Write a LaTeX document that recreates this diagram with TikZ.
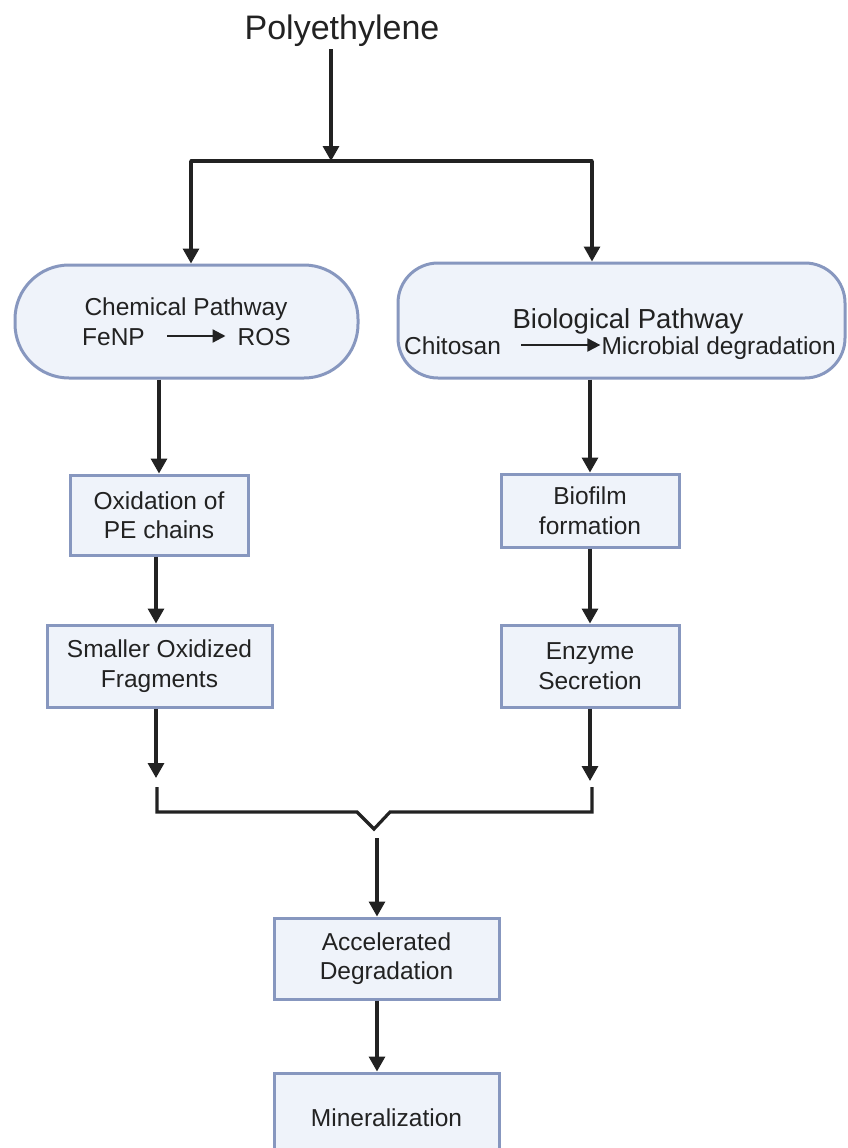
\documentclass[tikz,border=0pt]{standalone}
\usepackage{fontspec}
\setmainfont{Liberation Sans}
\usetikzlibrary{arrows.meta,calc}
\definecolor{boxfill}{HTML}{EFF3FA}
\definecolor{boxline}{HTML}{8797BF}
\definecolor{ink}{HTML}{222222}
\tikzset{
  arr/.style={draw=ink,line width=3.2pt,-{Triangle[width=16pt,length=15pt]}},
  plain/.style={draw=ink,line width=3.2pt},
  smallarr/.style={draw=ink,line width=2.2pt,-{Triangle[width=13pt,length=13pt]}},
  stepbox/.style={draw=boxline,fill=boxfill,line width=3pt,align=center,inner sep=0pt,
    font=\fontsize{24.5}{29.5}\selectfont,text=ink},
  pill/.style={draw=boxline,fill=boxfill,line width=3pt,inner sep=0pt},
  lbl/.style={inner sep=0pt,text=ink,font=\fontsize{24.5}{29.5}\selectfont}
}
\begin{document}
\begin{tikzpicture}[x=1pt,y=-1pt]
\useasboundingbox (0,0) rectangle (847,1148);
\clip (0,0) rectangle (847,1148);
% title
\node[inner sep=0pt,text=ink,font=\fontsize{34}{40}\selectfont] (poly) at (342,31) {Polyethylene};
% split coordinates
\coordinate (split) at (331,161);
\coordinate (splitL) at (191,161);
\coordinate (splitR) at (592,161);
% pathway boxes
\node[pill,rounded corners=54pt,minimum width=343pt,minimum height=113pt] (chem) at (186.5,321.5) {};
\node[pill,rounded corners=40pt,minimum width=447pt,minimum height=115pt] (bio) at (621.5,320.5) {};
% chem text
\node[lbl] (chemt) at (186,309) {Chemical Pathway};
\node[lbl,anchor=base west] (fenp) at (82,345) {FeNP};
\node[lbl,anchor=base east] (ros) at (291,345) {ROS};
\draw[smallarr] ($(fenp.base east)+(22,-9)$) -- ($(ros.base west)+(-12,-9)$);
% bio text
\node[inner sep=0pt,text=ink,font=\fontsize{27.5}{32}\selectfont] (biot) at (628,321) {Biological Pathway};
\node[lbl,anchor=base west] (chit) at (404,354) {Chitosan};
\node[lbl,anchor=base east] (micro) at (836,354) {Microbial degradation};
\draw[smallarr] ($(chit.base east)+(20,-9)$) -- ($(micro.base west)+(-1,-9)$);
% step boxes
\node[stepbox,minimum width=178pt,minimum height=80pt] (ox) at (159,515) {Oxidation of\\PE chains};
\node[stepbox,minimum width=225pt,minimum height=82pt] (frag) at (159.5,666) {Smaller Oxidized\\Fragments};
\node[stepbox,minimum width=178pt,minimum height=73pt] (film) at (590,510.5) {Biofilm\\formation};
\node[stepbox,minimum width=178pt,minimum height=82pt] (enz) at (590,666) {Enzyme\\Secretion};
\node[stepbox,minimum width=225pt,minimum height=81pt] (acc) at (386.5,958.5) {Accelerated\\Degradation};
\node[stepbox,minimum width=225pt,minimum height=90pt] (mine) at (386.5,1118) {Mineralization};
% top connectors
\draw[arr] (poly.south -| split) ++(0,2) -- (split);
\draw[plain,line cap=round] (splitL) -- (splitR);
\draw[arr] (splitL) -- (splitL |- chem.north);
\draw[arr] (splitR) -- (splitR |- bio.north);
% chemical column
\draw[arr] (chem.south -| ox.north) -- (ox.north);
\coordinate (colL) at (156,0);
\draw[arr] (ox.south -| colL) -- (colL |- frag.north);
\coordinate (endL) at (156,778);
\draw[arr] (frag.south -| endL) -- (endL);
% biological column
\draw[arr] (bio.south -| film.north) -- (film.north);
\draw[arr] (film.south) -- (enz.north);
\coordinate (endR) at (590,781);
\draw[arr] (enz.south) -- (endR);
% merge bracket
\coordinate (bL) at (157,787);
\coordinate (bR) at (592,787);
\coordinate (vtip) at (374,829);
\draw[plain,line join=miter] (bL) -- (157,812) -- (357,812) -- (vtip) -- (390,812) -- (592,812) -- (bR);
\coordinate (down) at (377,838);
\draw[arr] (down) -- (down |- acc.north);
\draw[arr] (acc.south -| down) -- (down |- mine.north);
\end{tikzpicture}
\end{document}
